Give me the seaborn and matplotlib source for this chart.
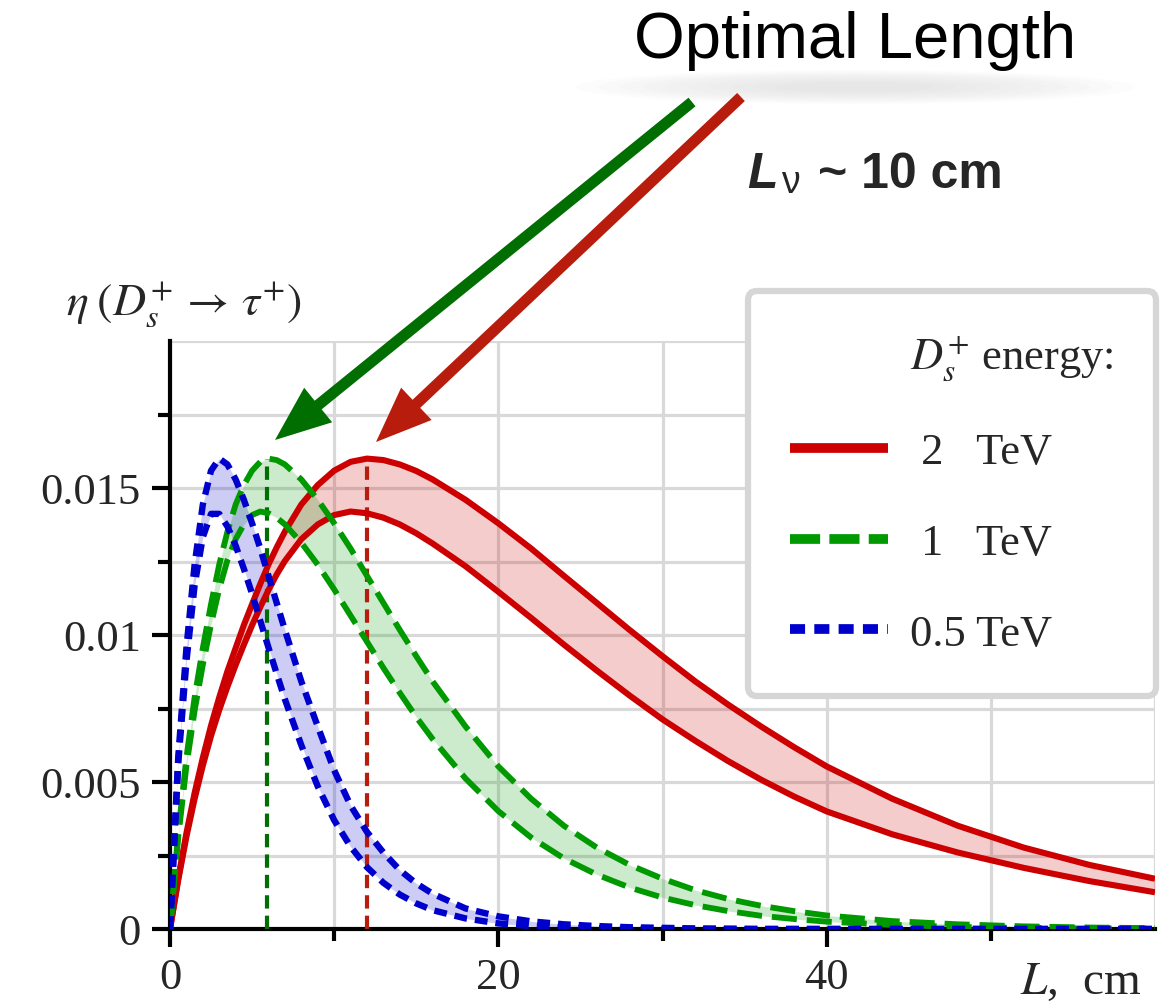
import matplotlib
matplotlib.use("Agg")
import matplotlib.pyplot as plt
from matplotlib.lines import Line2D
from matplotlib.patches import FancyArrowPatch, Ellipse
import seaborn as sns

# decay length L (cm) at which the curves were read
L_cm = [0, 0.5, 1, 1.5, 2, 2.5, 3, 3.5, 4, 4.5, 5, 5.5, 6, 6.5, 7,
        8, 9, 10, 11, 12, 13, 14, 15, 16,
        18, 20, 22, 24, 26, 28, 30, 32, 34, 36, 38, 40,
        44, 48, 52, 56, 60]

# efficiency bands (upper / lower edge) for each D_s energy
eta_2tev_hi = [0, 0.00172, 0.00326, 0.00463, 0.00583, 0.00692, 0.00788, 0.00877, 0.00956, 0.01034,
               0.01105, 0.01174, 0.0124, 0.01298, 0.01352,
               0.01444, 0.0151, 0.01559, 0.01589, 0.016, 0.01595, 0.0158, 0.01558, 0.01529,
               0.0146, 0.0138, 0.01294, 0.01201, 0.01109, 0.01017, 0.00928, 0.00842, 0.00763,
               0.00689, 0.00619, 0.00553,
               0.00443, 0.00351, 0.00277, 0.00218, 0.00171]
eta_2tev_lo = [0, 0.00166, 0.00314, 0.00443, 0.00556, 0.00657, 0.00745, 0.00824, 0.00898, 0.00967,
               0.01033, 0.01095, 0.01153, 0.01206, 0.01252,
               0.01326, 0.01376, 0.01408, 0.0142, 0.01414, 0.01399, 0.01376, 0.01346, 0.01311,
               0.01234, 0.01147, 0.01058, 0.00967, 0.00879, 0.00794, 0.00713, 0.0064, 0.00571,
               0.00508, 0.00451, 0.004,
               0.00322, 0.0026, 0.00208, 0.00163, 0.00125]
eta_1tev_hi = [0, 0.00326, 0.00583, 0.00788, 0.00956, 0.01105, 0.0124, 0.01352, 0.01444, 0.0151,
               0.01559, 0.01589, 0.016, 0.01595, 0.0158,
               0.01529, 0.0146, 0.0138, 0.01294, 0.01201, 0.01109, 0.01017, 0.00928, 0.00842,
               0.00689, 0.00553, 0.00443, 0.00351, 0.00277, 0.00218, 0.00171, 0.00132, 0.00102,
               0.00079, 0.00061, 0.00046,
               0.00027, 0.00016, 0.00009, 0.00005, 0.00003]
eta_1tev_lo = [0, 0.00313, 0.00554, 0.00743, 0.00899, 0.01036, 0.01157, 0.01255, 0.01326, 0.01376,
               0.01408, 0.0142, 0.01414, 0.01399, 0.01376,
               0.01314, 0.01239, 0.01155, 0.01066, 0.00977, 0.00888, 0.00803, 0.00721, 0.00646,
               0.00512, 0.00401, 0.00311, 0.0024, 0.00185, 0.00141, 0.00107, 0.00081, 0.00061,
               0.00045, 0.00034, 0.00025,
               0.00014, 0.00007, 0.00004, 0.00002, 0.00001]
eta_05tev_hi = [0, 0.00583, 0.00956, 0.0124, 0.01444, 0.01559, 0.016, 0.0158, 0.01529, 0.0146,
                0.0138, 0.01294, 0.01201, 0.01109, 0.01017,
                0.00842, 0.00689, 0.0054, 0.0042, 0.0033, 0.0026, 0.002, 0.00155, 0.0012,
                0.0007, 0.00043, 0.00026, 0.00016, 0.0001, 0.00006, 0.00004, 0.00002, 0.00001,
                0, 0, 0,
                0, 0, 0, 0, 0]
eta_05tev_lo = [0, 0.00562, 0.00909, 0.01169, 0.01333, 0.01412, 0.01412, 0.01369, 0.01304, 0.01225,
                0.0114, 0.01048, 0.00957, 0.00868, 0.00781,
                0.00625, 0.00485, 0.0037, 0.0028, 0.0021, 0.00157, 0.00117, 0.00087, 0.00064,
                0.00036, 0.00019, 0.0001, 0.00005, 0.00003, 0.00001, 0, 0, 0,
                0, 0, 0,
                0, 0, 0, 0, 0]

legend_title = r"$D_s^{+}$ energy:"
legend_labels = [" 2   TeV", " 1   TeV", "0.5 TeV"]
optimal_L = [12.0, 5.9]      # red, green peak positions (cm)
peak_eta = 0.016

x_major = [0, 20, 40]
x_minor = [10, 30, 50]
y_major = [0, 0.005, 0.01, 0.015]
y_major_labels = ["0", "0.005", "0.01", "0.015"]
y_minor = [0.0025, 0.0075, 0.0125, 0.0175]

red, green, blue = "#cc0000", "#009900", "#0000cc"
red_dark, green_dark = "#b81c0c", "#006e00"

sns.set_theme(style="white")
plt.rcParams["font.family"] = ["Liberation Serif", "DejaVu Serif"]
plt.rcParams["mathtext.fontset"] = "stix"

W, H = 1173, 1004
fig = plt.figure(figsize=(W / 100, H / 100), dpi=100)


def fx(x, y):
    # pixel position (from top-left) -> figure fraction
    return x / W, 1 - y / H


ax = fig.add_axes([170 / W, 74 / H, 985 / W, 588 / H])

bands = [
    (eta_2tev_hi, eta_2tev_lo, red, 4.4, None),
    (eta_1tev_hi, eta_1tev_lo, green, 4.2, (4.3, 1.7)),
    (eta_05tev_hi, eta_05tev_lo, blue, 4.6, (2.0, 1.25)),
]
for hi, lo, col, lw, dash in bands:
    ax.fill_between(L_cm, lo, hi, color=col, alpha=0.2, lw=0, zorder=2)
    for ys in (hi, lo):
        sns.lineplot(x=L_cm, y=ys, ax=ax, color=col, linewidth=lw, zorder=4)
        ax.lines[-1].set_solid_capstyle("butt")
        if dash is not None:
            ax.lines[-1].set_dashes(dash)

# optimal-length markers
for xv, col in zip(optimal_L, [red_dark, green_dark]):
    ln = ax.vlines(xv, 0, peak_eta, color=col, lw=3.0, zorder=3)
    ln.set_linestyle((0, (3.2, 1.7)))

ax.set_xlim(0, 60)
ax.set_ylim(0, 0.02)
ax.set_xticks(x_major)
ax.set_xticks(x_minor, minor=True)
ax.set_yticks(y_major)
ax.set_yticklabels(y_major_labels)
ax.set_yticks(y_minor, minor=True)
ax.set_xlabel("")
ax.set_ylabel("")

ax.grid(True, which="both", color="#d9d9d9", lw=2.3)
ax.axhline(0.02, color="#d9d9d9", lw=2.3, zorder=0.5)
ax.axvline(60, color="#d9d9d9", lw=2.3, zorder=0.5)
ax.set_axisbelow(True)

for s in ["top", "right"]:
    ax.spines[s].set_visible(False)
for s in ["left", "bottom"]:
    ax.spines[s].set_color("black")
    ax.spines[s].set_linewidth(3.0)

ax.tick_params(which="major", direction="out", length=13, width=3, color="black",
               labelsize=32, left=True, bottom=True)
ax.tick_params(which="minor", direction="out", length=8.5, width=3, color="black",
               left=True, bottom=True)
ax.tick_params(axis="x", which="major", pad=7)
ax.tick_params(axis="y", which="major", pad=8)

# legend, with the title as its first row
handles = [Line2D([], [], color="none")]
handles += [Line2D([], [], color=c, lw=7) for _, _, c, _, _ in bands]
handles[2].set_dashes((3.1, 0.95))
handles[3].set_dashes((1.55, 0.95))
for h in handles:
    h.set_solid_capstyle("butt")
leg = ax.legend(handles, [legend_title] + legend_labels,
                loc="upper right", bbox_to_anchor=fx(1156, 292),
                bbox_transform=fig.transFigure, borderaxespad=0,
                fontsize=32, handlelength=2.2, handletextpad=0.5,
                labelspacing=1.14, borderpad=0.95, frameon=True, fancybox=True,
                framealpha=1, edgecolor="#d6d6d6", facecolor="white")
leg.get_frame().set_linewidth(4.5)
leg.set_zorder(10)

# axis titles
fig.text(*fx(66, 305), r"$\eta\;(D_s^{+}\,\rightarrow\,\tau^{+})$", fontsize=33,
         ha="left", va="center")
fig.text(*fx(1020, 994), r"$L$,  cm", fontsize=34, ha="left", va="baseline")

# "Optimal Length" headline with a soft shadow under it
for k in range(10):
    f = 1 - k * 0.08
    fig.add_artist(Ellipse(fx(855, 88), 560 * f / W, 34 * f / H, color="#a0a0a0",
                           alpha=0.025, lw=0, transform=fig.transFigure))
fig.text(*fx(855, 58), "Optimal Length", fontsize=47, family="Liberation Sans",
         ha="center", va="baseline", color="black")

fig.text(*fx(747, 188), "L", fontsize=36, family="Liberation Sans", weight="bold",
         style="italic", ha="left", va="baseline")
fig.text(*fx(781, 193), "ν", fontsize=27, family="Liberation Sans",
         ha="left", va="baseline")
fig.text(*fx(818, 188), "~ 10 cm", fontsize=36, family="Liberation Sans", weight="bold",
         ha="left", va="baseline")

# arrows pointing at the optimal lengths
for tail, tip, col in [((692, 103), (275, 441), green_dark), ((741, 98), (376, 443), red_dark)]:
    arr = FancyArrowPatch(fx(*tail), fx(*tip), transform=fig.transFigure,
                          arrowstyle="simple,head_length=40,head_width=32,tail_width=8",
                          mutation_scale=1, color=col, lw=0, shrinkA=0, shrinkB=0)
    fig.add_artist(arr)

fig.savefig("out.png", dpi=100)
